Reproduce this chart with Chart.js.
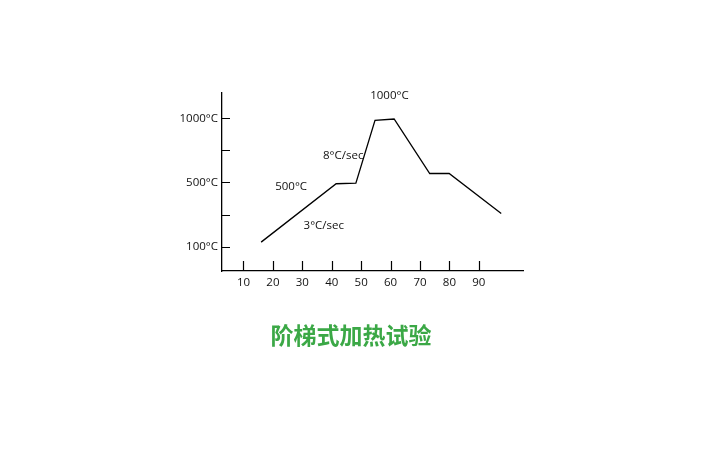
<!DOCTYPE html>
<html>
<head>
<meta charset="utf-8">
<script src="https://cdn.jsdelivr.net/npm/chart.js@4.4.0/dist/chart.umd.min.js"></script>
<style>
  html, body { margin: 0; padding: 0; background: #fff; }
  #wrap { position: relative; width: 726px; height: 450px; }
  #caption {
    position: absolute; left: 0; width: 702px; top: 320px; text-align: center;
    font-family: "Noto Sans CJK SC", sans-serif; font-weight: bold; font-size: 23px;
    color: #3ba846; line-height: 28px;
  }
</style>
</head>
<body>
<div id="wrap">
  <canvas id="heatChart" width="726" height="450"></canvas>
  <div id="caption">阶梯式加热试验</div>
</div>
<script>
// time (x) and temperature level (y) of the heating profile
const timeVals = [16, 41.5, 48.2, 54.7, 61.2, 73.3, 79.9, 97.6];
const levelVals = [0.14, 1.96, 1.98, 3.94, 3.98, 2.28, 2.28, 1.03];

// axis ticks
const xTicks = [10, 20, 30, 40, 50, 60, 70, 80, 90];
const yTicks = [0, 1, 2, 3, 4];
const yTickLabels = ['100°C', '', '500°C', '', '1000°C'];

// annotation texts and where they sit (data units)
const noteTexts = ['1000°C', '8°C/sec', '500°C', '3°C/sec'];
const noteX = [59.6, 43.9, 26.2, 37.3];
const noteY = [4.7, 2.82, 1.88, 0.64];

const FONT = { family: '"Open Sans", sans-serif', size: 11.5 };

// short tick marks pointing into the plot + annotation texts
const innerTicks = {
    id: 'innerTicks',
    afterDraw(chart) {
        const { ctx, scales: { x, y }, chartArea } = chart;
        ctx.save();
        ctx.strokeStyle = '#000';
        ctx.lineWidth = 1.2;
        ctx.beginPath();
        x.ticks.forEach(t => {
            const px = Math.round(x.getPixelForValue(t.value)) + 0.5;
            ctx.moveTo(px, chartArea.bottom);
            ctx.lineTo(px, chartArea.bottom - 10);
        });
        y.ticks.forEach(t => {
            const py = Math.round(y.getPixelForValue(t.value)) + 0.5;
            ctx.moveTo(chartArea.left, py);
            ctx.lineTo(chartArea.left + 8, py);
        });
        ctx.stroke();

        ctx.fillStyle = '#111';
        ctx.font = FONT.size + 'px ' + FONT.family;
        ctx.textAlign = 'center';
        ctx.textBaseline = 'middle';
        noteTexts.forEach((txt, i) => {
            ctx.fillText(txt, x.getPixelForValue(noteX[i]), y.getPixelForValue(noteY[i]));
        });
        ctx.restore();
    }
};

new Chart(document.getElementById('heatChart').getContext('2d'), {
    type: 'line',
    data: {
        datasets: [{
            data: timeVals.map((t, i) => ({ x: t, y: levelVals[i] })),
            borderColor: '#000',
            borderWidth: 1.3,
            pointRadius: 0,
            tension: 0,
            fill: false
        }]
    },
    options: {
        responsive: false,
        animation: false,
        layout: { padding: { left: 162, right: 203, top: 93, bottom: 154 } },
        plugins: { legend: { display: false }, tooltip: { enabled: false } },
        scales: {
            x: {
                type: 'linear',
                min: 2.7,
                max: 105,
                afterBuildTicks: s => { s.ticks = xTicks.map(v => ({ value: v })); },
                afterFit: s => { s.height = 25; },
                grid: { drawOnChartArea: false, drawTicks: false, color: 'rgba(0,0,0,0)' },
                border: { color: '#000', width: 1.3 },
                ticks: { color: '#111', font: FONT, padding: 5, maxRotation: 0, autoSkip: false }
            },
            y: {
                type: 'linear',
                min: -0.76,
                max: 4.79,
                afterBuildTicks: s => { s.ticks = yTicks.map(v => ({ value: v })); },
                afterFit: s => { s.width = 60; },
                grid: { drawOnChartArea: false, drawTicks: false, color: 'rgba(0,0,0,0)' },
                border: { color: '#000', width: 1.3 },
                ticks: {
                    color: '#111', font: FONT, padding: 4, autoSkip: false,
                    callback: (v) => yTickLabels[yTicks.indexOf(v)]
                }
            }
        }
    },
    plugins: [innerTicks]
});
</script>
</body>
</html>
